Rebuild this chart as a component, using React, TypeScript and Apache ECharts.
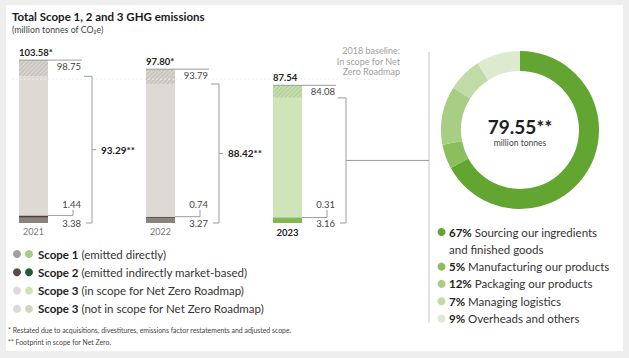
import React, { useEffect, useRef } from "react";
import * as echarts from "echarts";

// ---- data ----
const years = ["2021", "2022", "2023"];
const totals = [103.58, 97.8, 87.54];
const totalLabels = ["103.58*", "97.80*", "87.54"];
const scope1 = [3.38, 3.27, 3.16];
const scope2 = [1.44, 0.74, 0.31];
const scope3Total = [98.75, 93.79, 84.08];
const inScope = [93.29, 88.42, 79.55];
const inScopeLabels = ["93.29**", "88.42**", ""];
const baseline2018 = 91.5;

const donutCats = [
  "Sourcing our ingredients\nand finished goods",
  "Manufacturing our products",
  "Packaging our products",
  "Managing logistics",
  "Overheads and others",
];
const donutShares = [67, 5, 12, 7, 9];
const donutCenterLabel = "79.55**";

const scopeNames = ["Scope 1", "Scope 2", "Scope 3", "Scope 3"];
const scopeDescs = [
  "(emitted directly)",
  "(emitted indirectly market-based)",
  "(in scope for Net Zero Roadmap)",
  "(not in scope for Net Zero Roadmap)",
];

// ---- styles ----
const FONT = "Lato";
const scope1Colors = ["#8b837a", "#8b837a", "#7fb84e"];
const scope2Colors = ["#4d4036", "#4d4036", "#1f5c2f"];
const scope3InColors = ["#dddad4", "#dddad4", "#cfe4b9"];
const scope3OutColors = ["#d6d3cd", "#d6d3cd", "#c6dead"];
const hatchColors = ["rgba(150,143,132,0.3)", "rgba(150,143,132,0.3)", "rgba(120,165,80,0.3)"];
const donutColors = ["#62a531", "#8dbe5e", "#a8cd84", "#c0dba6", "#dcebd0"];
const legendDotA = ["#a2a09c", "#5a4b41", "#dcdbd8", "#d9d9d7"];
const legendDotB = ["#a7cd7e", "#1d5d35", "#cfe3bb", "#cbd8bb"];

const BAR_W = 29;

export default function App() {
  const ref = useRef<HTMLDivElement>(null);

  useEffect(() => {
    document.body.style.margin = "0";
    if (!ref.current) return;
    const chart = echarts.init(ref.current, null, { renderer: "svg" });

    const scope3In = inScope.map((v, i) => +(v - scope1[i] - scope2[i]).toFixed(2));
    const scope3Out = totals.map((v, i) => +(v - inScope[i]).toFixed(2));

    const barItem = (vals: number[], colors: string[], decal?: boolean) =>
      vals.map((v, i) => ({
        value: v,
        itemStyle: {
          color: colors[i],
          ...(decal
            ? {
                decal: {
                  symbol: "rect",
                  symbolSize: 1,
                  dashArrayX: [1, 0],
                  dashArrayY: [1, 2],
                  rotation: -Math.PI / 4,
                  color: hatchColors[i],
                },
              }
            : {}),
        },
      }));

    const last = years.length - 1;

    const annotation = (params: any, api: any) => {
      const i = params.dataIndex;
      const total = api.value(1);
      const s3 = api.value(2);
      const s2 = api.value(3);
      const s1 = api.value(4);
      const ins = api.value(5);
      const [cx, yT] = api.coord([i, total]);
      const y0 = api.coord([i, 0])[1];
      const yIn = api.coord([i, ins])[1];
      const y12 = api.coord([i, s1 + s2])[1];
      const L = cx - BAR_W / 2;
      const R = cx + BAR_W / 2;
      const stroke = "#9c9c9c";
      const lineStyle = { stroke, lineWidth: 1 };
      const bx = R + 44;
      const yMid = (yIn + y0) / 2;
      const children: any[] = [
        { type: "line", shape: { x1: L, y1: yT, x2: R + 34, y2: yT }, style: lineStyle },
        {
          type: "text",
          style: {
            x: L,
            y: yT - 3,
            text: totalLabels[i],
            align: "left",
            verticalAlign: "bottom",
            fontFamily: FONT,
            fontWeight: "bold",
            fontSize: 9.5,
            fill: "#222",
          },
        },
        {
          type: "text",
          style: {
            x: R + 33,
            y: yT + 6,
            text: s3.toFixed(2),
            align: "right",
            verticalAlign: "middle",
            fontFamily: FONT,
            fontSize: 9.5,
            fill: "#444",
          },
        },
        { type: "line", shape: { x1: bx, y1: yIn, x2: bx, y2: y0 }, style: lineStyle },
        { type: "line", shape: { x1: R + 36, y1: yIn, x2: bx, y2: yIn }, style: lineStyle },
        { type: "line", shape: { x1: R + 38, y1: y0, x2: bx, y2: y0 }, style: lineStyle },
        {
          type: "polyline",
          shape: { points: [[R, y12], [R + 25, y12], [R + 25, y0 - 13]] },
          style: { stroke, lineWidth: 1, fill: null },
        },
        {
          type: "text",
          style: {
            x: R + 33,
            y: y0 - 19,
            text: s2.toFixed(2),
            align: "right",
            verticalAlign: "middle",
            fontFamily: FONT,
            fontSize: 9.5,
            fill: "#444",
          },
        },
        {
          type: "text",
          style: {
            x: R + 33,
            y: y0,
            text: s1.toFixed(2),
            align: "right",
            verticalAlign: "middle",
            fontFamily: FONT,
            fontSize: 9.5,
            fill: "#444",
          },
        },
      ];
      if (i < last) {
        children.push(
          { type: "line", shape: { x1: bx, y1: yMid, x2: bx + 4, y2: yMid }, style: lineStyle },
          {
            type: "text",
            style: {
              x: bx + 9,
              y: yMid,
              text: inScopeLabels[i],
              align: "left",
              verticalAlign: "middle",
              fontFamily: FONT,
              fontWeight: "bold",
              fontSize: 10,
              fill: "#222",
            },
          }
        );
      } else {
        children.push({
          type: "line",
          shape: { x1: bx, y1: yMid, x2: 429, y2: yMid },
          style: lineStyle,
        });
      }
      return { type: "group", children };
    };

    const baselineItem = (params: any, api: any) => {
      const y = api.coord([0, api.value(0)])[1];
      return {
        type: "line",
        shape: { x1: 12, y1: y, x2: 400, y2: y },
        style: { stroke: "#ececec", lineWidth: 1, lineDash: [2, 2] },
      };
    };

    // left legend
    const leftLegend: any[] = [];
    scopeNames.forEach((n, i) => {
      const y = 254 + i * 18.3;
      leftLegend.push(
        { type: "circle", shape: { cx: 17, cy: y, r: 4 }, style: { fill: legendDotA[i] } },
        { type: "circle", shape: { cx: 29, cy: y, r: 4 }, style: { fill: legendDotB[i] } },
        {
          type: "text",
          style: {
            x: 38,
            y,
            text: `{b|${n}} ${scopeDescs[i]}`,
            verticalAlign: "middle",
            fontFamily: FONT,
            fontSize: 11.5,
            fill: "#333",
            rich: { b: { fontFamily: FONT, fontSize: 11.5, fontWeight: "bold", fill: "#222" } },
          },
        }
      );
    });

    // right legend
    const rightLegend: any[] = [];
    let ry = 232;
    donutCats.forEach((c, i) => {
      const lines = c.split("\n").length;
      rightLegend.push(
        { type: "circle", shape: { cx: 441.5, cy: ry, r: 4 }, style: { fill: donutColors[i] } },
        {
          type: "text",
          style: {
            x: 449,
            y: ry - 8.5,
            text: `{b|${donutShares[i]}%} ${c}`,
            verticalAlign: "top",
            lineHeight: 17,
            fontFamily: FONT,
            fontSize: 11.5,
            fill: "#333",
            rich: {
              b: { fontFamily: FONT, fontSize: 11.5, fontWeight: "bold", fill: "#222", lineHeight: 17 },
            },
          },
        }
      );
      ry += lines * 17.3;
    });

    const option: any = {
      animation: false,
      backgroundColor: "#eeeeee",
      grid: { left: 33.5, top: 50, width: 254, height: 173, outerBoundsMode: "none" },
      xAxis: {
        type: "category",
        data: years,
        boundaryGap: false,
        axisLine: { show: false },
        axisTick: { show: false },
        axisLabel: {
          margin: 4,
          formatter: (v: string, idx: number) => (idx === last ? `{b|${v}}` : `{n|${v}}`),
          rich: {
            n: { fontFamily: FONT, fontSize: 9, color: "#777" },
            b: { fontFamily: FONT, fontSize: 9.5, fontWeight: "bold", color: "#222" },
          },
        },
      },
      yAxis: { type: "value", min: 0, max: 110, show: false, splitLine: { show: false } },
      graphic: [
        { type: "rect", z: -10, shape: { x: 6, y: 5, width: 617, height: 346 }, style: { fill: "#ffffff" } },
        {
          type: "text",
          style: {
            x: 12,
            y: 16,
            text: "Total Scope 1, 2 and 3 GHG emissions",
            verticalAlign: "middle",
            fontFamily: FONT,
            fontWeight: "bold",
            fontSize: 11.5,
            fill: "#1a1a1a",
          },
        },
        {
          type: "text",
          style: {
            x: 12,
            y: 29,
            text: "(million tonnes of CO₂e)",
            verticalAlign: "middle",
            fontFamily: FONT,
            fontSize: 8.8,
            fill: "#444",
          },
        },
        {
          type: "text",
          style: {
            x: 400,
            y: 45.5,
            text: "2018 baseline:\nIn scope for Net\nZero Roadmap",
            align: "right",
            verticalAlign: "top",
            lineHeight: 10.5,
            fontFamily: FONT,
            fontSize: 9,
            fill: "#a0a0a0",
          },
        },
        { type: "line", shape: { x1: 429, y1: 52, x2: 429, y2: 323 }, style: { stroke: "#c4c4c4", lineWidth: 1 } },
        {
          type: "text",
          style: {
            x: 520,
            y: 126,
            text: donutCenterLabel,
            align: "center",
            verticalAlign: "middle",
            fontFamily: FONT,
            fontWeight: "bold",
            fontSize: 19,
            fill: "#1e1e1e",
          },
        },
        {
          type: "text",
          style: {
            x: 520,
            y: 143,
            text: "million tonnes",
            align: "center",
            verticalAlign: "middle",
            fontFamily: FONT,
            fontSize: 8.5,
            fill: "#444",
          },
        },
        ...leftLegend,
        ...rightLegend,
        {
          type: "text",
          style: {
            x: 8,
            y: 330,
            text: "* Restated due to acquisitions, divestitures, emissions factor restatements and adjusted scope.",
            verticalAlign: "middle",
            fontFamily: FONT,
            fontSize: 6.9,
            fill: "#444",
          },
        },
        {
          type: "text",
          style: {
            x: 8,
            y: 342,
            text: "** Footprint in scope for Net Zero.",
            verticalAlign: "middle",
            fontFamily: FONT,
            fontSize: 6.9,
            fill: "#444",
          },
        },
      ],
      series: [
        { type: "bar", stack: "t", barWidth: BAR_W, clip: false, data: barItem(scope1, scope1Colors) },
        { type: "bar", stack: "t", barWidth: BAR_W, clip: false, data: barItem(scope2, scope2Colors) },
        { type: "bar", stack: "t", barWidth: BAR_W, clip: false, data: barItem(scope3In, scope3InColors) },
        { type: "bar", stack: "t", barWidth: BAR_W, clip: false, data: barItem(scope3Out, scope3OutColors, true) },
        {
          type: "custom",
          z: 5,
          clip: false,
          renderItem: baselineItem,
          data: [[baseline2018]],
        },
        {
          type: "custom",
          z: 6,
          clip: false,
          renderItem: annotation,
          data: years.map((_, i) => [i, totals[i], scope3Total[i], scope2[i], scope1[i], inScope[i]]),
        },
        {
          type: "pie",
          center: [520, 130],
          radius: [59, 79],
          startAngle: 90,
          clockwise: true,
          label: { show: false },
          labelLine: { show: false },
          silent: true,
          itemStyle: { borderWidth: 0 },
          data: donutShares.map((v, i) => ({ value: v, name: donutCats[i], itemStyle: { color: donutColors[i] } })),
        },
      ],
    };

    chart.setOption(option);
    return () => chart.dispose();
  }, []);

  return <div ref={ref} style={{ width: 629, height: 358 }} />;
}
